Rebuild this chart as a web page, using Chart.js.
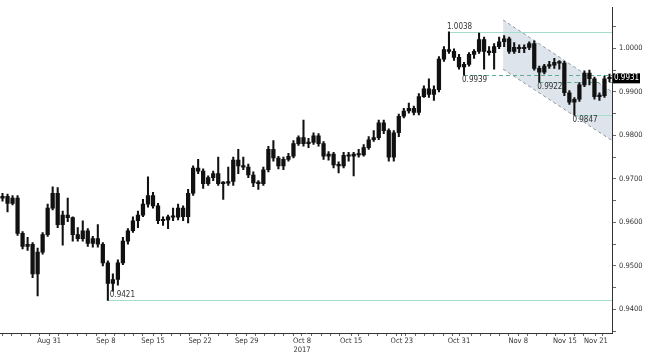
<!DOCTYPE html>
<html lang="en">
<head>
    <meta charset="UTF-8">
    <title>USD/CHF 2017</title>
    <style>
        body {
            margin: 0;
            background-color: #ffffff;
        }
        .chart-box {
            width: 652px;
            height: 353px;
            position: relative;
        }
    </style>
    <script src="https://cdn.jsdelivr.net/npm/chart.js"></script>
</head>
<body>
    <div class="chart-box">
        <canvas id="priceChart"></canvas>
    </div>

    <script>
        // candles (one candle ~ half a trading day)
        const opens = [
            0.9656, 0.9660, 0.9644, 0.9656, 0.9575, 0.9545, 0.9550, 0.9482, 0.9532, 0.9572,
            0.9633, 0.9667, 0.9595, 0.9617, 0.9611, 0.9572, 0.9563, 0.9581, 0.9552, 0.9563,
            0.9550, 0.9507, 0.9460, 0.9469, 0.9507, 0.9557, 0.9581, 0.9604, 0.9617, 0.9642,
            0.9662, 0.9638, 0.9604, 0.9606, 0.9613, 0.9612, 0.9633, 0.9613, 0.9667, 0.9725,
            0.9718, 0.9689, 0.9703, 0.9712, 0.9689, 0.9690, 0.9694, 0.9743, 0.9730, 0.9727,
            0.9709, 0.9691, 0.9689, 0.9721, 0.9768, 0.9748, 0.9730, 0.9745, 0.9752, 0.9781,
            0.9795, 0.9781, 0.9784, 0.9799, 0.9781, 0.9752, 0.9757, 0.9732, 0.9730, 0.9754,
            0.9752, 0.9757, 0.9755, 0.9772, 0.9790, 0.9795, 0.9829, 0.9811, 0.9750, 0.9806,
            0.9844, 0.9856, 0.9862, 0.9853, 0.9889, 0.9907, 0.9894, 0.9905, 0.9975, 0.9997,
            0.9993, 0.9979, 0.9957, 0.9963, 0.9986, 0.9993, 1.0020, 0.9993, 0.9990, 1.0004,
            1.0015, 1.0022, 0.9993, 1.0002, 0.9999, 1.0002, 1.0011, 0.9954, 0.9945, 0.9959,
            0.9961, 0.9968, 0.9966, 0.9898, 0.9876, 0.9883, 0.9916, 0.9943, 0.9930, 0.9889,
            0.9891, 0.9930
        ];
        const highs = [
            0.9667, 0.9665, 0.9662, 0.9662, 0.9579, 0.9566, 0.9554, 0.9541, 0.9577, 0.9642,
            0.9682, 0.9680, 0.9626, 0.9656, 0.9613, 0.9588, 0.9604, 0.9586, 0.9568, 0.9595,
            0.9554, 0.9512, 0.9482, 0.9514, 0.9566, 0.9586, 0.9613, 0.9626, 0.9653, 0.9705,
            0.9669, 0.9644, 0.9613, 0.9617, 0.9633, 0.9642, 0.9638, 0.9676, 0.9730, 0.9745,
            0.9723, 0.9707, 0.9718, 0.9750, 0.9694, 0.9727, 0.9750, 0.9768, 0.9750, 0.9734,
            0.9716, 0.9696, 0.9727, 0.9775, 0.9788, 0.9752, 0.9750, 0.9759, 0.9788, 0.9799,
            0.9835, 0.9793, 0.9806, 0.9804, 0.9786, 0.9763, 0.9761, 0.9739, 0.9761, 0.9761,
            0.9761, 0.9768, 0.9779, 0.9797, 0.9811, 0.9835, 0.9835, 0.9815, 0.9811, 0.9849,
            0.9862, 0.9874, 0.9867, 0.9896, 0.9914, 0.9930, 0.9914, 0.9981, 1.0004, 1.0038,
            0.9999, 0.9986, 0.9968, 0.9990, 0.9997, 1.0035, 1.0026, 1.0004, 1.0011, 1.0026,
            1.0029, 1.0026, 1.0013, 1.0008, 1.0008, 1.0015, 1.0017, 0.9959, 0.9963, 0.9970,
            0.9977, 0.9972, 0.9970, 0.9903, 0.9887, 0.9921, 0.9948, 0.9950, 0.9934, 0.9898,
            0.9936, 0.9941
        ];
        const lows = [
            0.9649, 0.9624, 0.9640, 0.9570, 0.9539, 0.9536, 0.9473, 0.9431, 0.9527, 0.9568,
            0.9629, 0.9588, 0.9548, 0.9602, 0.9557, 0.9557, 0.9557, 0.9545, 0.9543, 0.9543,
            0.9500, 0.9421, 0.9442, 0.9456, 0.9503, 0.9550, 0.9577, 0.9588, 0.9613, 0.9635,
            0.9633, 0.9597, 0.9593, 0.9586, 0.9604, 0.9606, 0.9604, 0.9599, 0.9662, 0.9712,
            0.9678, 0.9685, 0.9696, 0.9685, 0.9653, 0.9685, 0.9685, 0.9712, 0.9721, 0.9703,
            0.9682, 0.9676, 0.9685, 0.9716, 0.9741, 0.9723, 0.9721, 0.9741, 0.9748, 0.9777,
            0.9775, 0.9772, 0.9779, 0.9775, 0.9745, 0.9743, 0.9725, 0.9714, 0.9725, 0.9741,
            0.9707, 0.9750, 0.9752, 0.9768, 0.9786, 0.9790, 0.9804, 0.9741, 0.9741, 0.9797,
            0.9840, 0.9851, 0.9847, 0.9847, 0.9887, 0.9887, 0.9880, 0.9900, 0.9970, 0.9988,
            0.9972, 0.9952, 0.9939, 0.9959, 0.9977, 0.9988, 0.9952, 0.9984, 0.9952, 0.9999,
            1.0004, 0.9988, 0.9988, 0.9990, 0.9990, 0.9997, 0.9950, 0.9922, 0.9941, 0.9954,
            0.9954, 0.9952, 0.9891, 0.9871, 0.9847, 0.9878, 0.9912, 0.9916, 0.9883, 0.9880,
            0.9887, 0.9923
        ];
        const closes = [
            0.9660, 0.9644, 0.9656, 0.9575, 0.9545, 0.9550, 0.9482, 0.9532, 0.9572, 0.9633,
            0.9667, 0.9595, 0.9617, 0.9611, 0.9572, 0.9563, 0.9581, 0.9552, 0.9563, 0.9550,
            0.9507, 0.9460, 0.9469, 0.9507, 0.9557, 0.9581, 0.9604, 0.9617, 0.9642, 0.9662,
            0.9638, 0.9604, 0.9606, 0.9613, 0.9612, 0.9633, 0.9613, 0.9667, 0.9725, 0.9718,
            0.9689, 0.9703, 0.9712, 0.9689, 0.9690, 0.9694, 0.9743, 0.9730, 0.9727, 0.9709,
            0.9691, 0.9689, 0.9721, 0.9768, 0.9748, 0.9730, 0.9745, 0.9752, 0.9781, 0.9795,
            0.9781, 0.9784, 0.9799, 0.9781, 0.9752, 0.9757, 0.9732, 0.9730, 0.9754, 0.9752,
            0.9757, 0.9755, 0.9772, 0.9790, 0.9795, 0.9829, 0.9811, 0.9750, 0.9806, 0.9844,
            0.9856, 0.9862, 0.9853, 0.9889, 0.9907, 0.9894, 0.9905, 0.9975, 0.9997, 0.9993,
            0.9979, 0.9957, 0.9963, 0.9986, 0.9993, 1.0020, 0.9993, 0.9990, 1.0004, 1.0015,
            1.0022, 0.9993, 1.0002, 0.9999, 1.0002, 1.0011, 0.9954, 0.9945, 0.9959, 0.9961,
            0.9968, 0.9966, 0.9898, 0.9876, 0.9883, 0.9916, 0.9943, 0.9930, 0.9889, 0.9891,
            0.9930, 0.9931
        ];

        // date labels and the candle they sit on
        const xTickLabels = ['Aug 31', 'Sep 8', 'Sep 15', 'Sep 22', 'Sep 29', 'Oct 8', 'Oct 15', 'Oct 23', 'Oct 31', 'Nov 8', 'Nov 15', 'Nov 21'];
        const xTickPos = [9.3, 20.6, 30.0, 39.4, 48.7, 59.7, 69.5, 79.6, 91.0, 102.8, 112.1, 118.3];
        const yearLabel = '2017';
        const yearUnder = 'Oct 8';

        // price axis
        const yMin = 0.93461;
        const yMax = 1.00937;
        const yTicks = [0.935, 0.940, 0.945, 0.950, 0.955, 0.960, 0.965, 0.970, 0.975, 0.980, 0.985, 0.990, 0.995, 1.000, 1.005];

        // marked levels and the candle where each one was set
        const levels = [1.0038, 0.9939, 0.9922, 0.9847, 0.9421];
        const levelFrom = [89, 92, 107, 114, 21];

        // falling channel: two candle positions, upper and lower edge prices
        const channelX = [99.8, 121.5];
        const channelTop = [1.0065, 0.9900];
        const channelBottom = [0.9952, 0.9788];

        const lastPrice = 0.9931;

        const N = closes.length;
        const FONT = '"DejaVu Sans Condensed", "DejaVu Sans", sans-serif';

        const overlayPlugin = {
            id: 'overlay',
            beforeDatasetsDraw(chart) {
                const { ctx, chartArea, scales: { x, y } } = chart;
                ctx.save();
                // channel
                const x0 = x.getPixelForValue(channelX[0]);
                const x1 = x.getPixelForValue(channelX[1]);
                ctx.beginPath();
                ctx.moveTo(x0, y.getPixelForValue(channelTop[0]));
                ctx.lineTo(x1, y.getPixelForValue(channelTop[1]));
                ctx.lineTo(x1, y.getPixelForValue(channelBottom[1]));
                ctx.lineTo(x0, y.getPixelForValue(channelBottom[0]));
                ctx.closePath();
                ctx.fillStyle = '#dde4eb';
                ctx.fill();
                ctx.setLineDash([3, 3]);
                ctx.strokeStyle = '#8c939b';
                ctx.lineWidth = 1;
                ctx.beginPath();
                ctx.moveTo(x0, y.getPixelForValue(channelTop[0]));
                ctx.lineTo(x1, y.getPixelForValue(channelTop[1]));
                ctx.moveTo(x0, y.getPixelForValue(channelBottom[0]));
                ctx.lineTo(x1, y.getPixelForValue(channelBottom[1]));
                ctx.stroke();

                // level lines
                levels.forEach((lv, k) => {
                    const py = Math.round(y.getPixelForValue(lv)) + 0.5;
                    const px = x.getPixelForValue(levelFrom[k]);
                    const dashed = k === 1 || k === 2;
                    ctx.setLineDash(dashed ? [4, 3] : []);
                    ctx.strokeStyle = dashed ? '#5fae92' : '#a6dccb';
                    ctx.beginPath();
                    ctx.moveTo(px, py);
                    ctx.lineTo(chartArea.right, py);
                    ctx.stroke();
                });
                ctx.restore();
            },
            afterDatasetsDraw(chart) {
                const { ctx, scales: { x, y } } = chart;
                ctx.save();
                ctx.font = '8px ' + FONT;
                ctx.fillStyle = '#333333';
                ctx.textAlign = 'left';
                levels.forEach((lv, k) => {
                    const py = y.getPixelForValue(lv);
                    const px = x.getPixelForValue(levelFrom[k]) + (k === 4 ? 2 : -2);
                    const above = k === 0 || k === 4;
                    ctx.textBaseline = above ? 'bottom' : 'top';
                    ctx.fillText(lv.toFixed(4), px, above ? py - 1 : py + 1);
                });
                ctx.restore();
            },
            afterDraw(chart) {
                const { ctx, chartArea, scales: { y } } = chart;
                const py = y.getPixelForValue(lastPrice);
                ctx.save();
                ctx.fillStyle = '#000000';
                ctx.fillRect(chartArea.right + 1, py - 5, 27, 10);
                ctx.font = '8px ' + FONT;
                ctx.fillStyle = '#ffffff';
                ctx.textAlign = 'left';
                ctx.textBaseline = 'middle';
                ctx.fillText(lastPrice.toFixed(4), chartArea.right + 2, py);
                ctx.restore();
            }
        };

        function createChart() {
            const ctx = document.getElementById('priceChart').getContext('2d');
            const wicks = highs.map((h, i) => ({ x: i, y: [lows[i], h] }));
            const bodies = opens.map((o, i) => ({ x: i, y: [o, closes[i]] }));

            new Chart(ctx, {
                type: 'bar',
                data: {
                    datasets: [{
                        label: 'range',
                        data: wicks,
                        backgroundColor: '#111111',
                        barThickness: 1.4,
                        grouped: false
                    }, {
                        label: 'body',
                        data: bodies,
                        backgroundColor: '#111111',
                        barThickness: 3.6,
                        minBarLength: 1.5,
                        grouped: false
                    }]
                },
                options: {
                    responsive: true,
                    maintainAspectRatio: false,
                    animation: false,
                    layout: { padding: 0 },
                    plugins: {
                        legend: { display: false },
                        tooltip: { enabled: false }
                    },
                    scales: {
                        x: {
                            type: 'linear',
                            min: -0.5,
                            max: N - 0.5,
                            offset: false,
                            grid: { drawOnChartArea: false, offset: false, tickLength: 3, color: '#666666' },
                            border: { color: '#333333' },
                            afterBuildTicks: (scale) => {
                                const vals = xTickPos.slice();
                                for (let v = xTickPos[0]; v < N - 0.5; v += 1.87) {
                                    if (xTickPos.every(p => Math.abs(p - v) > 0.6)) vals.push(v);
                                }
                                for (let v = xTickPos[0] - 1.87; v > -0.5; v -= 1.87) vals.push(v);
                                vals.sort((a, b) => a - b);
                                scale.ticks = vals.map(v => ({ value: v }));
                            },
                            afterFit: (scale) => { scale.height = 20; },
                            ticks: {
                                autoSkip: false,
                                maxRotation: 0,
                                padding: 1,
                                color: '#333333',
                                font: { size: 7.5, family: FONT },
                                callback: (value) => {
                                    const k = xTickPos.findIndex(p => Math.abs(p - value) < 1e-6);
                                    if (k < 0) return '';
                                    return xTickLabels[k] === yearUnder ? [xTickLabels[k], yearLabel] : xTickLabels[k];
                                }
                            }
                        },
                        y: {
                            position: 'right',
                            min: yMin,
                            max: yMax,
                            grid: { drawOnChartArea: false, tickLength: 4, color: '#666666' },
                            border: { color: '#333333' },
                            afterBuildTicks: (scale) => {
                                scale.ticks = yTicks.map(v => ({ value: v }));
                            },
                            afterFit: (scale) => { scale.width = 40; },
                            ticks: {
                                padding: 3,
                                color: '#333333',
                                font: { size: 7.5, family: FONT },
                                callback: (value) => Math.round(value * 10000) % 100 === 0 ? value.toFixed(4) : ''
                            }
                        }
                    }
                },
                plugins: [overlayPlugin]
            });
        }

        window.onload = createChart;
    </script>
</body>
</html>
